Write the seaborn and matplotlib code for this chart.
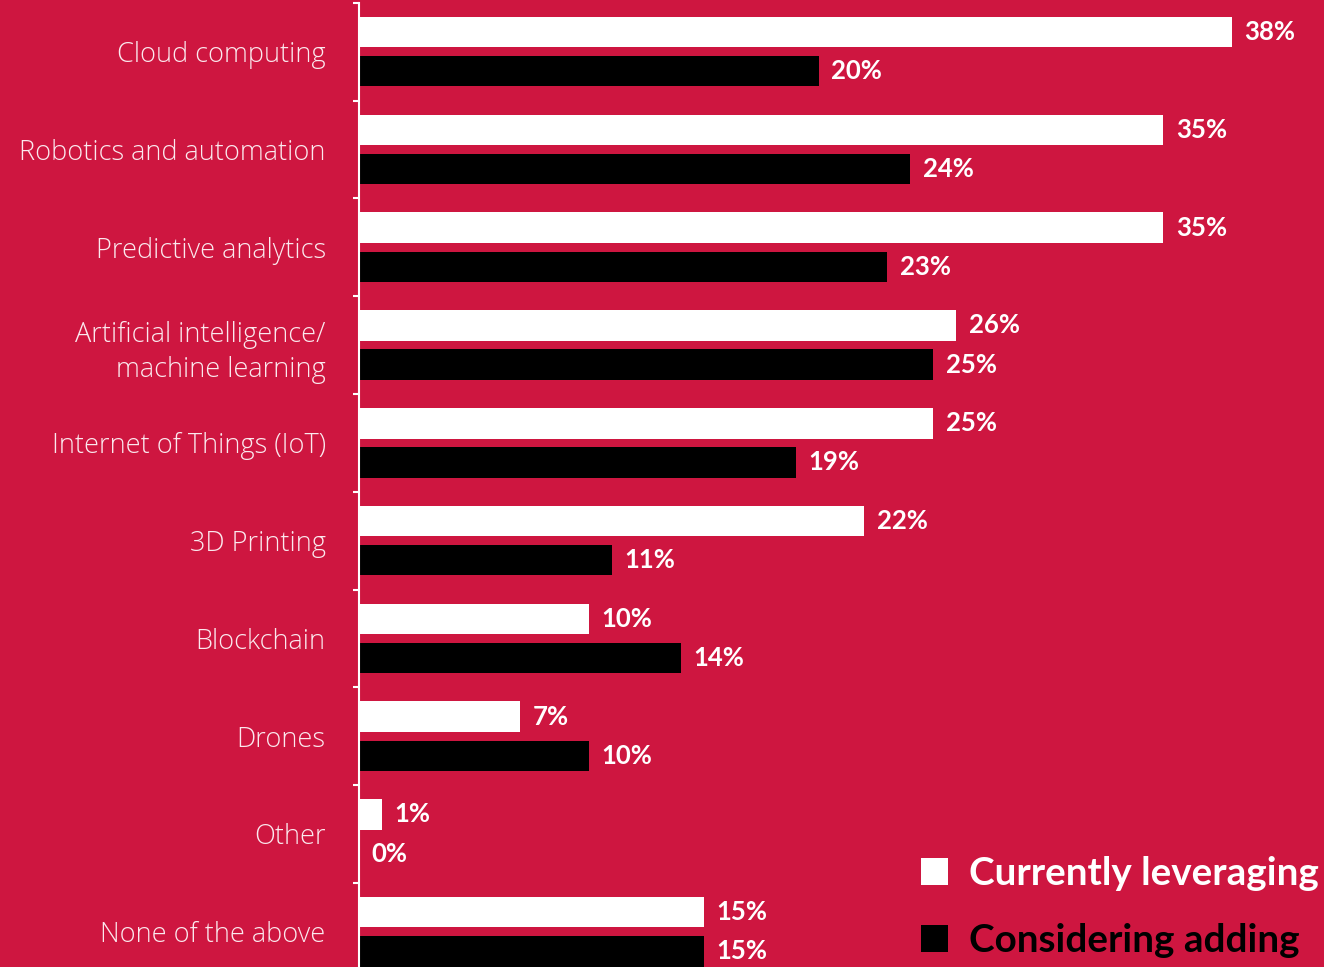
import matplotlib.pyplot as plt
import seaborn as sns
import pandas as pd
from matplotlib.patches import Patch

categories = ['Cloud computing', 'Robotics and automation', 'Predictive analytics',
              'Artificial intelligence/\nmachine learning', 'Internet of Things (IoT)',
              '3D Printing', 'Blockchain', 'Drones', 'Other', 'None of the above']
current = [38, 35, 35, 26, 25, 22, 10, 7, 1, 15]
considering = [20, 24, 23, 25, 19, 11, 14, 10, 0, 15]
series = ['Currently leveraging', 'Considering adding']

bg = '#CE1640'

df = pd.DataFrame({
    'category': categories * 2,
    'value': current + considering,
    'series': [series[0]] * len(categories) + [series[1]] * len(categories),
})

sns.set_style('white')
plt.rcParams['font.family'] = ['Lato', 'DejaVu Sans']

fig = plt.figure(figsize=(13.24, 9.67), dpi=100, facecolor=bg)
ax = fig.add_axes([359 / 1324, 0, 1 - 359 / 1324, 1])
ax.set_facecolor(bg)

sns.barplot(data=df, y='category', x='value', hue='series', orient='h',
            palette=['white', 'black'], width=0.8, gap=0.22, saturation=1,
            linewidth=0, legend=False, ax=ax)

ax.set_xlim(0, 42)
ax.set_ylim(9.36, -0.528)

for c in ax.containers:
    ax.bar_label(c, labels=[f'{int(v)}%' for v in c.datavalues], padding=9,
                 color='white', fontsize=18.5, fontweight='bold')

ax.set_xlabel('')
ax.set_ylabel('')
ax.set_xticks([])
ax.set_yticks(range(len(categories)))
ax.set_yticklabels(categories, fontsize=19.5, fontweight=300, color='#fbe9ee',
                   family=['Open Sans', 'DejaVu Sans'], linespacing=1.35)
ax.tick_params(axis='y', which='major', length=0, pad=24)
ax.set_yticks([i - 0.5 for i in range(len(categories))], minor=True)
ax.tick_params(axis='y', which='minor', length=4.5, width=1.5, color='white',
               direction='out', left=True)

for s in ['top', 'right', 'bottom']:
    ax.spines[s].set_visible(False)
ax.spines['left'].set_color('white')
ax.spines['left'].set_linewidth(1.5)
ax.spines['left'].set_bounds(-0.5, 9.36)

handles = [Patch(facecolor='white', linewidth=0), Patch(facecolor='black', linewidth=0)]
fig.legend(handles, series, loc='upper left',
           bbox_to_anchor=(921 / 1324, 1 - 856 / 967),
           frameon=False, borderpad=0, borderaxespad=0,
           handlelength=0.69, handleheight=0.69, handletextpad=0.55,
           labelspacing=0.82, labelcolor=['white', 'black'],
           prop={'size': 27.8, 'weight': 'bold'})

fig.savefig('out.png', dpi=100, facecolor=bg)
